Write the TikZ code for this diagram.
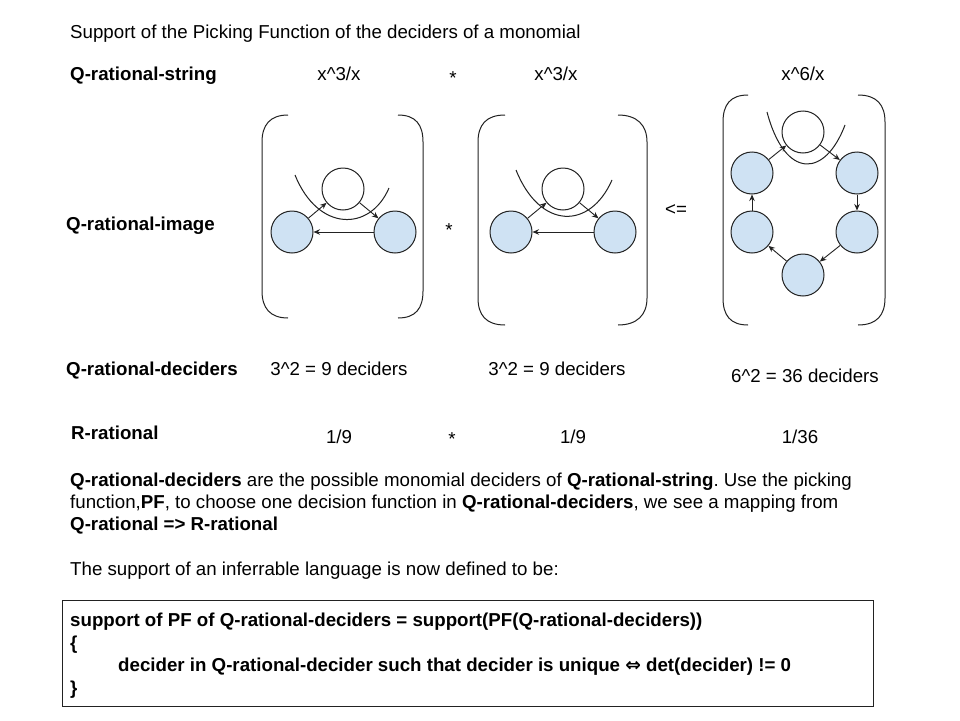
\documentclass[tikz,border=0pt]{standalone}
\usepackage{fontspec}
\setmainfont{Liberation Sans}
\newfontfamily\dejavu{DejaVu Sans}
\usetikzlibrary{arrows.meta}
\definecolor{nodeblue}{HTML}{CFE2F3}
\definecolor{ink}{HTML}{222222}
\frenchspacing
\tikzset{
  txt/.style={anchor=base west, inner sep=0pt, font=\fontsize{18.7}{22}\selectfont},
  btxt/.style={txt, font=\fontsize{18.7}{22}\selectfont\bfseries},
  ctxt/.style={anchor=base, inner sep=0pt, font=\fontsize{18.7}{22}\selectfont},
  state/.style={circle, draw=ink, line width=1pt, minimum size=42pt, inner sep=0pt, fill=nodeblue},
  wstate/.style={state, fill=white},
  arr/.style={draw=ink, line width=0.9pt, -{Stealth[length=6.5pt,width=5.5pt]}},
  brk/.style={draw=ink, line width=1pt},
  loopc/.style={draw=ink, line width=1pt}
}
\begin{document}
\begin{tikzpicture}[x=1pt,y=-1pt]
\useasboundingbox (0,0) rectangle (960,720);
\fill[white] (0,0) rectangle (960,720);

% texts
\node[txt] (title) at (70,38.5) {Support of the Picking Function of the deciders of a monomial};
\node[btxt] (lstring) at (70,80.5) {Q-rational-string};
\node[ctxt] (s1) at (339,80.5) {x\textasciicircum3/x};
\node[ctxt] (m1) at (453,84) {*};
\node[ctxt] (s2) at (556,80.5) {x\textasciicircum3/x};
\node[ctxt] (s3) at (803,80.5) {x\textasciicircum6/x};
\node[btxt] (limage) at (66,230.5) {Q-rational-image};
\node[ctxt] (m2) at (449,236) {*};
\node[ctxt] (le) at (676,215) {<=};
\node[btxt] (ldec) at (66,375.5) {Q-rational-deciders};
\node[ctxt] (d1) at (339,375.5) {3\textasciicircum2 = 9 deciders};
\node[ctxt] (d2) at (557,375.5) {3\textasciicircum2 = 9 deciders};
\node[ctxt] (d3) at (805,382) {6\textasciicircum2 = 36 deciders};
\node[btxt] (lr) at (71,439.5) {R-rational};
\node[ctxt] (r1) at (339,443.5) {1/9};
\node[ctxt] (m3) at (452,445) {*};
\node[ctxt] (r2) at (573,443.5) {1/9};
\node[ctxt] (r3) at (800,443.5) {1/36};

\node[txt] (p1) at (70,486.5) {\textbf{Q-rational-deciders} are the possible monomial deciders of \textbf{Q-rational-string}. Use the picking};
\node[txt] (p2) at (70,508.5) {function,\textbf{PF}, to choose one decision function in \textbf{Q-rational-deciders}, we see a mapping from};
\node[txt] (p3) at (70,530.5) {\textbf{Q-rational => R-rational}};
\node[txt] (p4) at (70,575.5) {The support of an inferrable language is now defined to be:};

% box
\node[draw=ink, line width=1pt, anchor=north west, minimum width=811pt, minimum height=106pt, inner sep=0pt] (box) at (62,600) {};
\node[btxt] (b1) at (70,626.5) {support of PF of Q-rational-deciders = support(PF(Q-rational-deciders))};
\node[btxt] (b2) at (70,649) {\{};
\node[btxt] (b3) at (118,671.5) {decider in Q-rational-decider such that decider is unique {\dejavu\bfseries ⇔} det(decider) != 0};
\node[btxt] (b4) at (70,694.5) {\}};

% graph 1
\draw[brk] (288,115) .. controls (270,115) and (262,125) .. (262,142) -- (262,291) .. controls (262,308) and (270,318) .. (288,318);
\draw[brk] (398,115) .. controls (416,115) and (423,125) .. (423,142) -- (423,291) .. controls (423,308) and (416,318) .. (398,318);
\node[wstate] (g1t) at (343,189) {};
\node[state] (g1l) at (292,232) {};
\node[state] (g1r) at (395,232) {};
\draw[loopc] (295,175) .. controls (318,232) and (370,232) .. (389,188);
\draw[arr] (g1l) -- (g1t);
\draw[arr] (g1t) -- (g1r);
\draw[arr] (g1r) -- (g1l);

% graph 2
\draw[brk] (505,115) .. controls (486,115) and (478,125) .. (478,142) -- (478,298) .. controls (478,315) and (486,325) .. (505,325);
\draw[brk] (618,115) .. controls (637,115) and (647,125) .. (647,142) -- (647,298) .. controls (647,315) and (637,325) .. (618,325);
\node[wstate] (g2t) at (563,189) {};
\node[state] (g2l) at (511,232) {};
\node[state] (g2r) at (615,232) {};
\draw[loopc] (516,170) .. controls (540,230) and (590,230) .. (612,180);
\draw[arr] (g2l) -- (g2t);
\draw[arr] (g2t) -- (g2r);
\draw[arr] (g2r) -- (g2l);

% graph 3
\draw[brk] (748,95) .. controls (730,95) and (723,105) .. (723,122) -- (723,298) .. controls (723,315) and (730,325) .. (748,325);
\draw[brk] (858,95) .. controls (877,95) and (885,105) .. (885,122) -- (885,298) .. controls (885,315) and (877,325) .. (858,325);
\node[wstate] (g3t) at (803,132) {};
\node[state] (g3ul) at (752,173) {};
\node[state] (g3ur) at (857,173) {};
\node[state] (g3ll) at (752,232) {};
\node[state] (g3lr) at (857,232) {};
\node[state] (g3b) at (803,275) {};
\draw[loopc] (767,112) .. controls (785,180) and (825,178) .. (845,125);
\draw[arr] (g3ul) -- (g3t);
\draw[arr] (g3t) -- (g3ur);
\draw[arr] (g3ur) -- (g3lr);
\draw[arr] (g3lr) -- (g3b);
\draw[arr] (g3b) -- (g3ll);
\draw[arr] (g3ll) -- (g3ul);
\end{tikzpicture}
\end{document}
